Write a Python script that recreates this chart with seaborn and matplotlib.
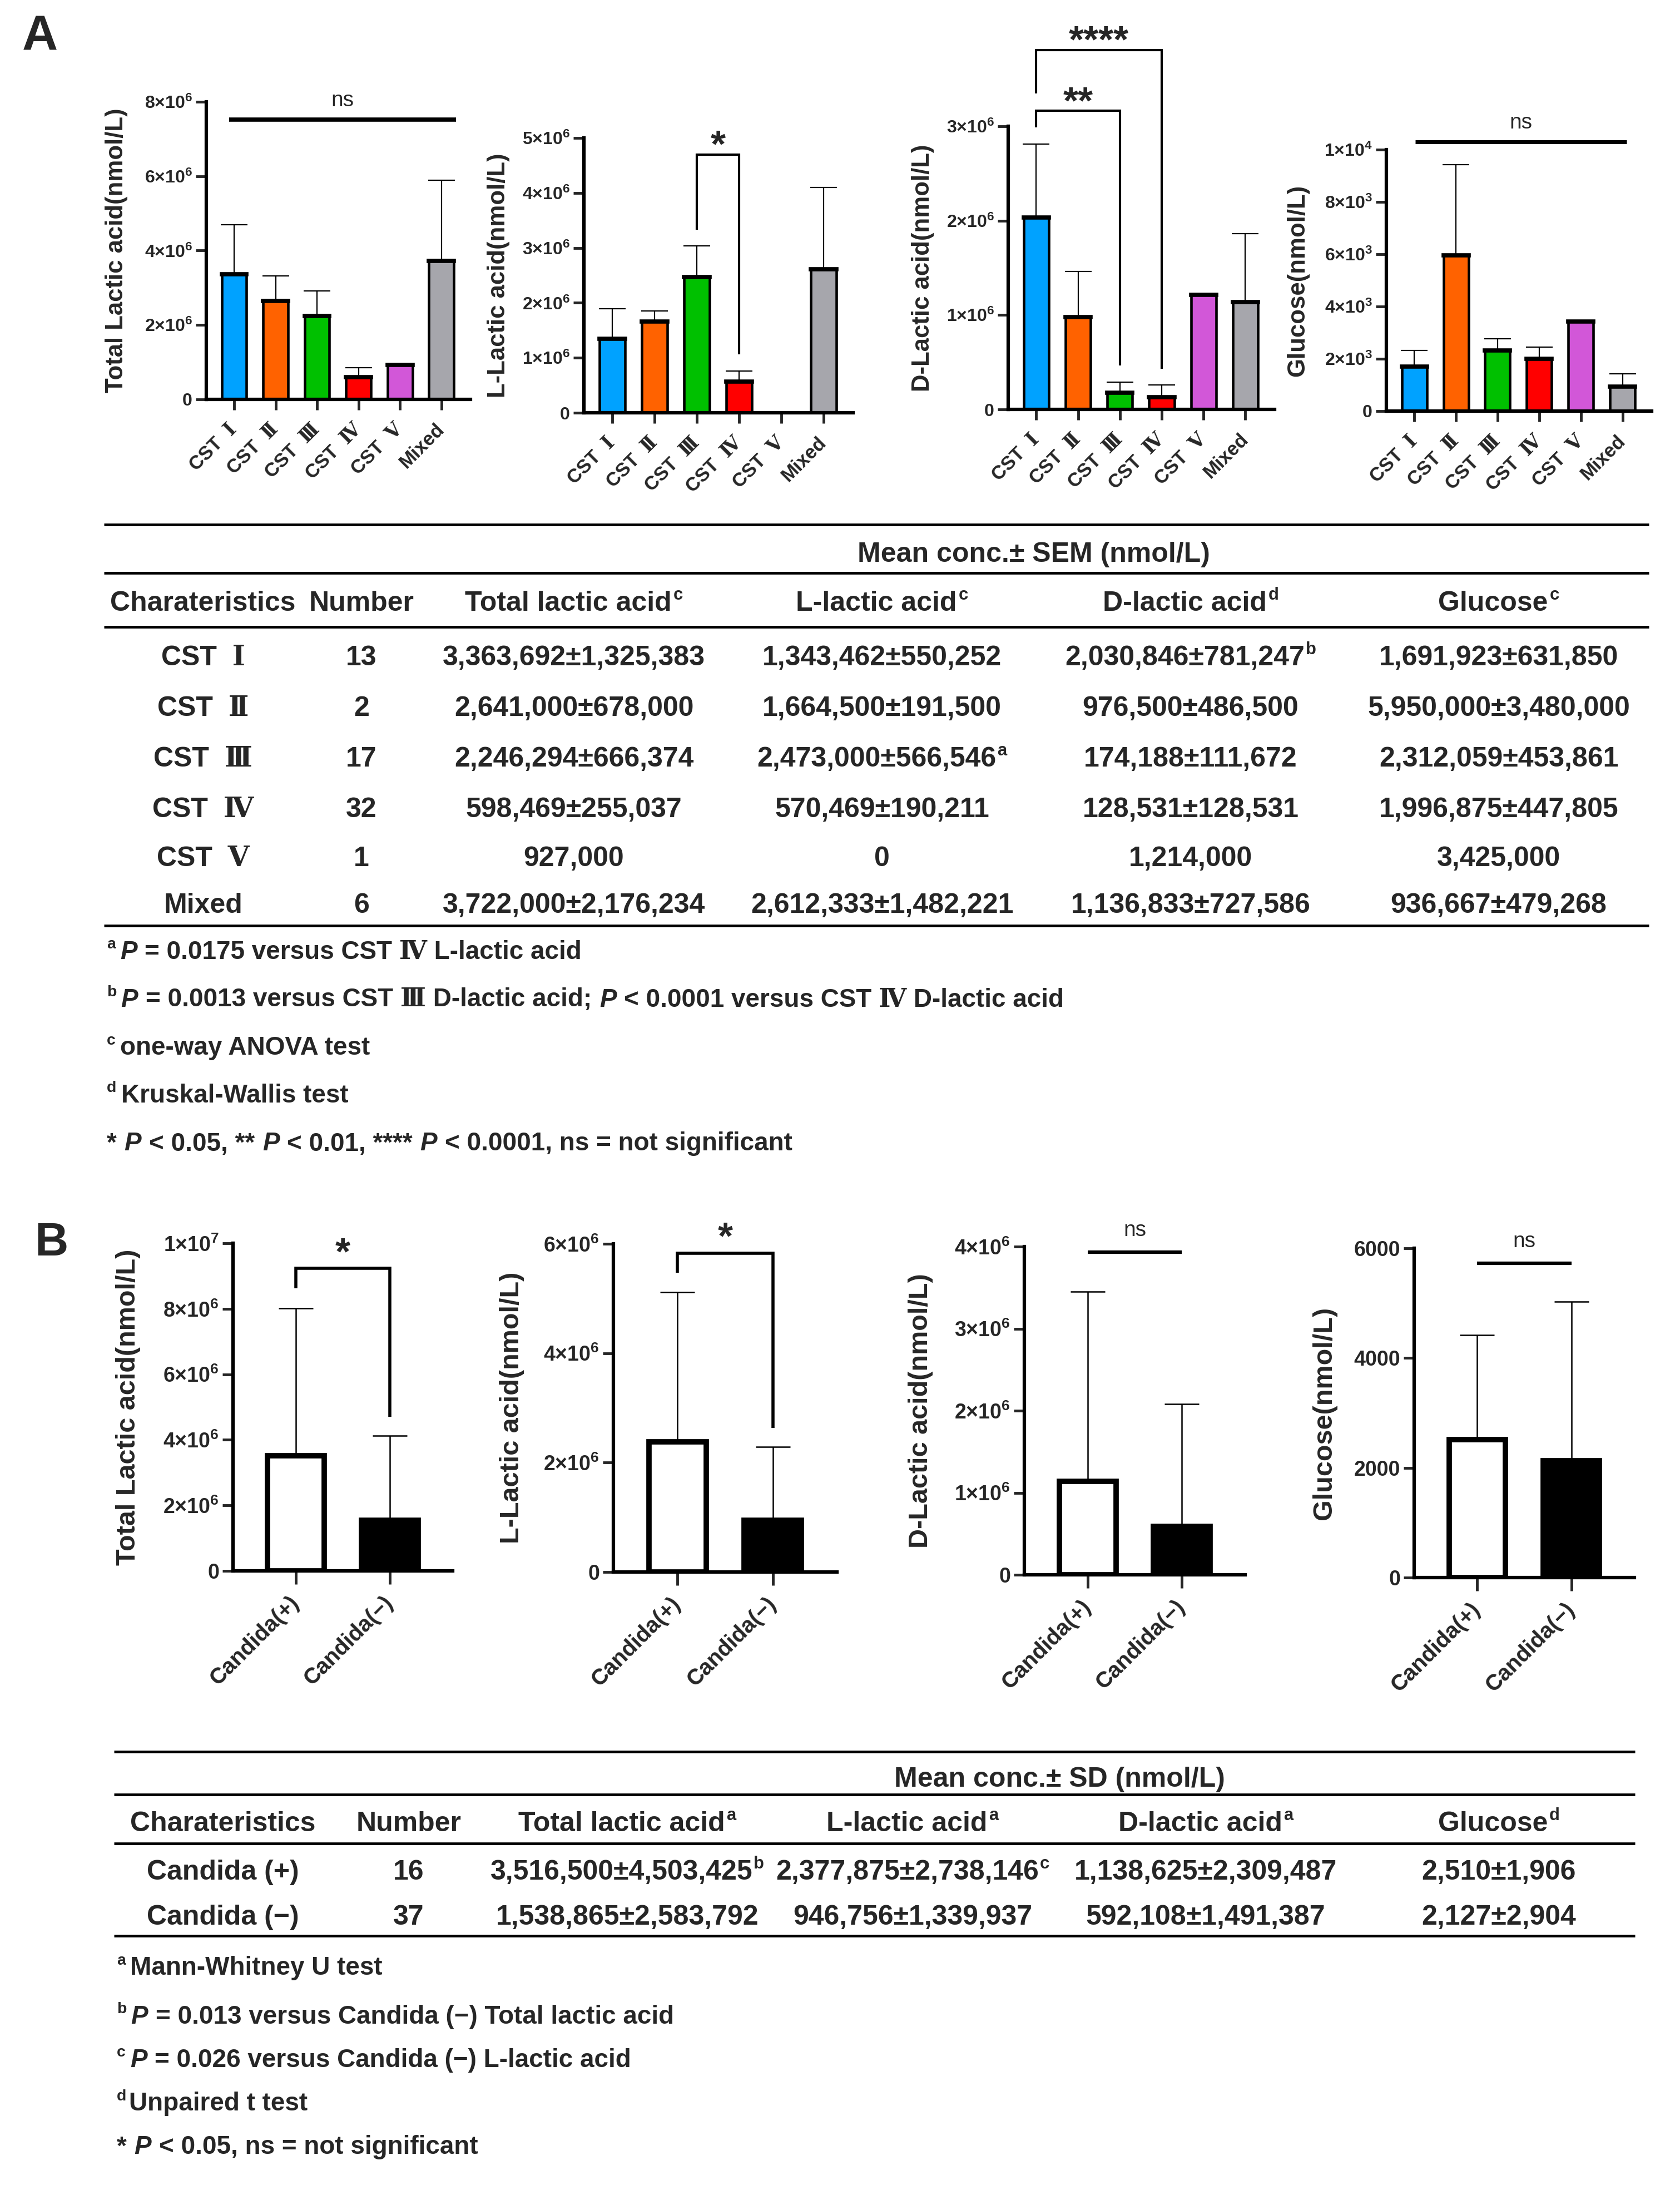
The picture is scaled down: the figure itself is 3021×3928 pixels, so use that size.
import matplotlib
matplotlib.use('Agg')
import matplotlib.pyplot as plt
import seaborn as sns
import numpy as np
import pandas as pd
from matplotlib.lines import Line2D
from matplotlib.transforms import IdentityTransform

# ---------------- data ----------------
cst_groups = ['CST Ⅰ', 'CST Ⅱ', 'CST Ⅲ', 'CST Ⅳ', 'CST Ⅴ', 'Mixed']
cst_ticklabels = ['CST  Ⅰ', 'CST  Ⅱ', 'CST  Ⅲ', 'CST  Ⅳ', 'CST  Ⅴ', 'Mixed']
cst_n = [13, 2, 17, 32, 1, 6]
total_mean = [3363692, 2641000, 2246294, 598469, 927000, 3722000]
total_sem = [1325383, 678000, 666374, 255037, 0, 2176234]
l_mean = [1343462, 1664500, 2473000, 570469, 0, 2612333]
l_sem = [550252, 191500, 566546, 190211, 0, 1482221]
d_mean = [2030846, 976500, 174188, 128531, 1214000, 1136833]
d_sem = [781247, 486500, 111672, 128531, 0, 727586]
glu_mean_table = [1691923, 5950000, 2312059, 1996875, 3425000, 936667]
glu_sem_table = [631850, 3480000, 453861, 447805, 0, 479268]
glu_mean_chart = [1691.923, 5950.0, 2312.059, 1996.875, 3425.0, 936.667]
glu_sem_chart = [631.850, 3480.0, 453.861, 447.805, 0, 479.268]
cst_colors = ['#00A2FF', '#FF6200', '#00C000', '#FF0000', '#D257D8', '#A6A6AC']

cand_groups = ['Candida(+)', 'Candida(−)']
cand_rows = ['Candida (+)', 'Candida (−)']
cand_n = [16, 37]
cand_total_mean = [3516500, 1538865]
cand_total_sd = [4503425, 2583792]
cand_l_mean = [2377875, 946756]
cand_l_sd = [2738146, 1339937]
cand_d_mean = [1138625, 592108]
cand_d_sd = [2309487, 1491387]
cand_glu_mean = [2510, 2127]
cand_glu_sd = [1906, 2904]
cand_colors = ['white', 'black']

ticks_total_a = [0, 2e6, 4e6, 6e6, 8e6]
labels_total_a = ['0', '2×10$^{6}$', '4×10$^{6}$', '6×10$^{6}$', '8×10$^{6}$']
ticks_l_a = [0, 1e6, 2e6, 3e6, 4e6, 5e6]
labels_l_a = ['0', '1×10$^{6}$', '2×10$^{6}$', '3×10$^{6}$', '4×10$^{6}$', '5×10$^{6}$']
ticks_d_a = [0, 1e6, 2e6, 3e6]
labels_d_a = ['0', '1×10$^{6}$', '2×10$^{6}$', '3×10$^{6}$']
ticks_glu_a = [0, 2e3, 4e3, 6e3, 8e3, 1e4]
labels_glu_a = ['0', '2×10$^{3}$', '4×10$^{3}$', '6×10$^{3}$', '8×10$^{3}$', '1×10$^{4}$']
ticks_total_b = [0, 2e6, 4e6, 6e6, 8e6, 1e7]
labels_total_b = ['0', '2×10$^{6}$', '4×10$^{6}$', '6×10$^{6}$', '8×10$^{6}$', '1×10$^{7}$']
ticks_l_b = [0, 2e6, 4e6, 6e6]
labels_l_b = ['0', '2×10$^{6}$', '4×10$^{6}$', '6×10$^{6}$']
ticks_d_b = [0, 1e6, 2e6, 3e6, 4e6]
labels_d_b = ['0', '1×10$^{6}$', '2×10$^{6}$', '3×10$^{6}$', '4×10$^{6}$']
ticks_glu_b = [0, 2000, 4000, 6000]
labels_glu_b = ['0', '2000', '4000', '6000']

# ---------------- style ----------------
W, H, DPI = 3021, 3928, 100
sns.set_style('ticks')
FAM = ['Liberation Sans', 'DejaVu Serif', 'Noto Sans CJK SC', 'DejaVu Sans']
plt.rcParams['font.family'] = FAM
plt.rcParams['mathtext.fontset'] = 'custom'
plt.rcParams['mathtext.rm'] = 'Liberation Sans:bold'
plt.rcParams['mathtext.it'] = 'Liberation Sans:italic:bold'
plt.rcParams['mathtext.bf'] = 'Liberation Sans:bold'
plt.rcParams['axes.linewidth'] = 4.5
plt.rcParams['axes.edgecolor'] = 'black'

fig = plt.figure(figsize=(W / DPI, H / DPI), dpi=DPI)
fig.patch.set_facecolor('white')


def axes_px(left, right, top, bottom):
    return fig.add_axes([left / W, 1 - bottom / H, (right - left) / W, (bottom - top) / H])


def draw_bars(ax, cats, means, errs, colors, lw, cap, elw, width, xlim, top_lw=None):
    df = pd.DataFrame({'g': cats, 'v': means})
    sns.barplot(data=df, x='g', y='v', hue='g', order=cats, hue_order=cats,
                palette=dict(zip(cats, colors)), legend=False, errorbar=None,
                width=width, edgecolor='black', linewidth=lw, saturation=1, ax=ax)
    if top_lw:
        # heavier top edge on each bar, as in the original (GraphPad style)
        for p in list(ax.patches):
            if p.get_height() > 0:
                ax.plot([p.get_x(), p.get_x() + p.get_width()], [p.get_height()] * 2,
                        color='black', lw=top_lw, solid_capstyle='projecting', zorder=3)
    ax.errorbar(np.arange(len(cats)), means, yerr=[np.zeros(len(cats)), errs], fmt='none',
                ecolor='black', elinewidth=elw, capsize=cap, capthick=elw, zorder=0.5)
    ax.set_xlim(*xlim)
    ax.set_xlabel('')
    sns.despine(ax=ax)


def style_axes(ax, yticks, ylabels, ylabel, label_x, ytfs, xtfs, ylfs, xtick_labels, ticklen, xpad):
    ax.set_ylim(0, yticks[-1])
    ax.set_yticks(yticks)
    ax.set_yticklabels(ylabels, fontsize=ytfs, fontweight='bold')
    ax.set_xticks(np.arange(len(xtick_labels)))
    ax.set_xticklabels(xtick_labels, rotation=45, ha='right', va='center', rotation_mode='anchor',
                       fontsize=xtfs, fontweight='bold')
    ax.tick_params(axis='y', direction='out', length=14, width=3.5, pad=4)
    ax.tick_params(axis='x', direction='out', length=ticklen, width=3.5, pad=xpad)
    ax.set_ylabel(ylabel, fontsize=ylfs, fontweight='bold', va='center')
    ax.yaxis.set_label_coords(label_x, 0.5)


def bracket(ax, x1, x2, y, y1, y2, label, lw, fs=50, off=-3):
    ax.plot([x1, x1, x2, x2], [y1, y, y, y2], color='black', lw=lw, clip_on=False,
            solid_joinstyle='miter', solid_capstyle='butt')
    ax.annotate(label, xy=((x1 + x2) / 2, y), xytext=(0, off), textcoords='offset points',
                ha='center', va='baseline', fontsize=fs, fontweight='bold', annotation_clip=False)


def ns_line(ax, x1, x2, y, lw, fs=28, off=17):
    ax.plot([x1, x2], [y, y], color='black', lw=lw, clip_on=False, solid_capstyle='butt')
    ax.annotate('ns', xy=((x1 + x2) / 2, y), xytext=(0, off), textcoords='offset points',
                ha='center', va='baseline', fontsize=fs, annotation_clip=False)


XL_A = (-0.67, 5.7)
XL_B = (-0.67, 1.67)

# ---------------- Panel A charts ----------------
a_specs = [
    ((371, 846, 183, 718), total_mean, total_sem, ticks_total_a, labels_total_a, 'Total Lactic acid(nmol/L)', -0.339),
    ((1050, 1534, 248, 742), l_mean, l_sem, ticks_l_a, labels_l_a, 'L-Lactic acid(nmol/L)', -0.318),
    ((1813, 2292, 227, 736), d_mean, d_sem, ticks_d_a, labels_d_a, 'D-Lactic acid(nmol/L)', -0.321),
    ((2493, 2970, 269, 739), glu_mean_chart, glu_sem_chart, ticks_glu_a, labels_glu_a, 'Glucose(nmol/L)', -0.333),
]
a_axes = []
for box, m, e, yt, yl, lab, lx in a_specs:
    ax = axes_px(*box)
    draw_bars(ax, cst_groups, m, e, cst_colors, 3.3, 17, 1.6, 0.6, XL_A, top_lw=5.5)
    style_axes(ax, yt, yl, lab, lx, 23, 25, 31.5, cst_ticklabels, 14, 21)
    a_axes.append(ax)

ns_line(a_axes[0], -0.12, 5.35, 7.52e6, 5.5)
bracket(a_axes[1], 2, 3, 4.70e6, 3.33e6, 1.06e6, '*', 3.0)
bracket(a_axes[2], 0, 2, 3.165e6, 2.99e6, 0.468e6, '**', 3.0)
bracket(a_axes[2], 0, 3, 3.81e6, 3.35e6, 0.43e6, '****', 3.0)
ns_line(a_axes[3], 0.03, 5.1, 10.3e3, 5.0)

# ---------------- Panel B charts ----------------
b_specs = [
    ((419, 814, 2235, 2824), cand_total_mean, cand_total_sd, ticks_total_b, labels_total_b, 'Total Lactic acid(nmol/L)', -0.476),
    ((1103, 1505, 2236, 2826), cand_l_mean, cand_l_sd, ticks_l_b, labels_l_b, 'L-Lactic acid(nmol/L)', -0.455),
    ((1842, 2239, 2241, 2831), cand_d_mean, cand_d_sd, ticks_d_b, labels_d_b, 'D-Lactic acid(nmol/L)', -0.471),
    ((2543, 2939, 2244, 2836), cand_glu_mean, cand_glu_sd, ticks_glu_b, labels_glu_b, 'Glucose(nmol/L)', -0.407),
]
b_axes = []
for box, m, e, yt, yl, lab, lx in b_specs:
    ax = axes_px(*box)
    draw_bars(ax, cand_groups, m, e, cand_colors, 7.0, 22, 1.8, 0.6, XL_B)
    style_axes(ax, yt, yl, lab, lx, 27, 29, 35, cand_groups, 17, 20)
    b_axes.append(ax)

bracket(b_axes[0], 0, 1, 9.24e6, 8.63e6, 4.70e6, '*', 4.0, off=5)
bracket(b_axes[1], 0, 1, 5.83e6, 5.47e6, 2.63e6, '*', 4.0, off=6)
ns_line(b_axes[2], 0, 1, 3.93e6, 4.5, off=21)
ns_line(b_axes[3], 0, 1, 5726, 4.5, off=21)

# ---------------- panel letters ----------------
fig.text(72 / W, 1 - 67 / H, 'A', fontsize=64, fontweight='bold', ha='center', va='center')
fig.text(93 / W, 1 - 2235 / H, 'B', fontsize=60, fontweight='bold', ha='center', va='center')

# ---------------- rich text helpers ----------------
R = fig.canvas.get_renderer()


def rich(x, yc, segs, ha='left', fs=36):
    """x in px from left, yc = visual centre (px from top); segs: (text, kind, gap_em)"""
    em = fs * DPI / 72.0
    base = yc + 0.36 * em
    arts, ws = [], []
    for text, kind, gap in segs:
        size = fs * 0.62 if kind == 'sup' else fs
        style = 'italic' if kind == 'it' else 'normal'
        t = fig.text(0, 0, text, fontsize=size, fontweight='bold', fontstyle=style,
                     va='baseline', ha='left', transform=IdentityTransform())
        w = t.get_window_extent(renderer=R).width
        arts.append(t)
        ws.append((w, gap * em))
    total = sum(w + g for w, g in ws)
    cur = x - total / 2 if ha == 'center' else x
    for t, (w, g), (text, kind, _) in zip(arts, ws, segs):
        cur += g
        dy = 0.40 * em if kind == 'sup' else 0
        t.set_position((cur, H - base + dy))
        cur += w


def hline(x0, x1, y, lw=3.4):
    fig.add_artist(Line2D([x0 / W, x1 / W], [1 - y / H, 1 - y / H], color='black', lw=lw,
                          transform=fig.transFigure, solid_capstyle='butt'))


def fmt(m, s, n):
    return f"{m:,}" if n == 1 else f"{m:,}±{s:,}"


TFS = 36   # table font size
NFS = 33   # footnote font size

# ---------------- Table A ----------------
TA_X0, TA_X1 = 187, 2965
for y in (943, 1030, 1127, 1664):
    hline(TA_X0, TA_X1, y)
rich(1859, 992, [('Mean conc.± SEM (nmol/L)', 'b', 0)], ha='center', fs=TFS)
cols_a = [365, 650, 1032, 1586, 2141, 2695]
hdr_a = [[('Charateristics', 'b', 0)], [('Number', 'b', 0)],
         [('Total lactic acid', 'b', 0), ('c', 'sup', 0.05)],
         [('L-lactic acid', 'b', 0), ('c', 'sup', 0.05)],
         [('D-lactic acid', 'b', 0), ('d', 'sup', 0.05)],
         [('Glucose', 'b', 0), ('c', 'sup', 0.05)]]
for cx, segs in zip(cols_a, hdr_a):
    rich(cx, 1080, segs, ha='center', fs=TFS)
sup_a = {(0, 4): 'b', (2, 3): 'a'}
rows_a = [1178, 1269, 1360, 1451, 1539, 1623]
for i, yc in enumerate(rows_a):
    cells = [cst_ticklabels[i], str(cst_n[i]),
             fmt(total_mean[i], total_sem[i], cst_n[i]),
             fmt(l_mean[i], l_sem[i], cst_n[i]),
             fmt(d_mean[i], d_sem[i], cst_n[i]),
             fmt(glu_mean_table[i], glu_sem_table[i], cst_n[i])]
    for j, (cx, txt) in enumerate(zip(cols_a, cells)):
        segs = [(txt, 'b', 0)]
        if (i, j) in sup_a:
            segs.append((sup_a[(i, j)], 'sup', 0.03))
        rich(cx, yc, segs, ha='center', fs=TFS)

foot_a = [
    [('a', 'sup', 0), ('P', 'it', 0.18), ('= 0.0175 versus CST Ⅳ L-lactic acid', 'b', 0.3)],
    [('b', 'sup', 0), ('P', 'it', 0.18), ('= 0.0013 versus CST Ⅲ D-lactic acid;', 'b', 0.3),
     ('P', 'it', 0.3), ('< 0.0001 versus CST Ⅳ D-lactic acid', 'b', 0.3)],
    [('c', 'sup', 0), ('one-way ANOVA test', 'b', 0.18)],
    [('d', 'sup', 0), ('Kruskal-Wallis test', 'b', 0.18)],
    [('*', 'b', 0), ('P', 'it', 0.3), ('< 0.05, **', 'b', 0.3), ('P', 'it', 0.3),
     ('< 0.01, ****', 'b', 0.3), ('P', 'it', 0.3), ('< 0.0001, ns = not significant', 'b', 0.3)],
]
for yc, segs in zip([1707, 1793, 1880, 1965, 2052], foot_a):
    rich(192, yc, segs, fs=NFS)

# ---------------- Table B ----------------
TB_X0, TB_X1 = 205, 2940
for y in (3149, 3226, 3314, 3480):
    hline(TB_X0, TB_X1, y)
rich(1905, 3194, [('Mean conc.± SD (nmol/L)', 'b', 0)], ha='center', fs=TFS)
cols_b = [401, 735, 1128, 1641, 2168, 2695]
hdr_b = [[('Charateristics', 'b', 0)], [('Number', 'b', 0)],
         [('Total lactic acid', 'b', 0), ('a', 'sup', 0.05)],
         [('L-lactic acid', 'b', 0), ('a', 'sup', 0.05)],
         [('D-lactic acid', 'b', 0), ('a', 'sup', 0.05)],
         [('Glucose', 'b', 0), ('d', 'sup', 0.05)]]
for cx, segs in zip(cols_b, hdr_b):
    rich(cx, 3274, segs, ha='center', fs=TFS)
sup_b = {(0, 2): 'b', (0, 3): 'c'}
rows_b = [3361, 3442]
for i, yc in enumerate(rows_b):
    cells = [cand_rows[i], str(cand_n[i]),
             fmt(cand_total_mean[i], cand_total_sd[i], cand_n[i]),
             fmt(cand_l_mean[i], cand_l_sd[i], cand_n[i]),
             fmt(cand_d_mean[i], cand_d_sd[i], cand_n[i]),
             fmt(cand_glu_mean[i], cand_glu_sd[i], cand_n[i])]
    for j, (cx, txt) in enumerate(zip(cols_b, cells)):
        segs = [(txt, 'b', 0)]
        if (i, j) in sup_b:
            segs.append((sup_b[(i, j)], 'sup', 0.03))
        rich(cx, yc, segs, ha='center', fs=TFS)

foot_b = [
    [('a', 'sup', 0), ('Mann-Whitney U test', 'b', 0.18)],
    [('b', 'sup', 0), ('P', 'it', 0.18), ('= 0.013 versus Candida (−) Total lactic acid', 'b', 0.3)],
    [('c', 'sup', 0), ('P', 'it', 0.18), ('= 0.026 versus Candida (−) L-lactic acid', 'b', 0.3)],
    [('d', 'sup', 0), ('Unpaired t test', 'b', 0.1)],
    [('*', 'b', 0), ('P', 'it', 0.3), ('< 0.05, ns = not significant', 'b', 0.3)],
]
for yc, segs in zip([3534, 3621, 3699, 3778, 3856], foot_b):
    rich(210, yc, segs, fs=NFS)

fig.savefig('out.png', dpi=DPI, facecolor='white')
